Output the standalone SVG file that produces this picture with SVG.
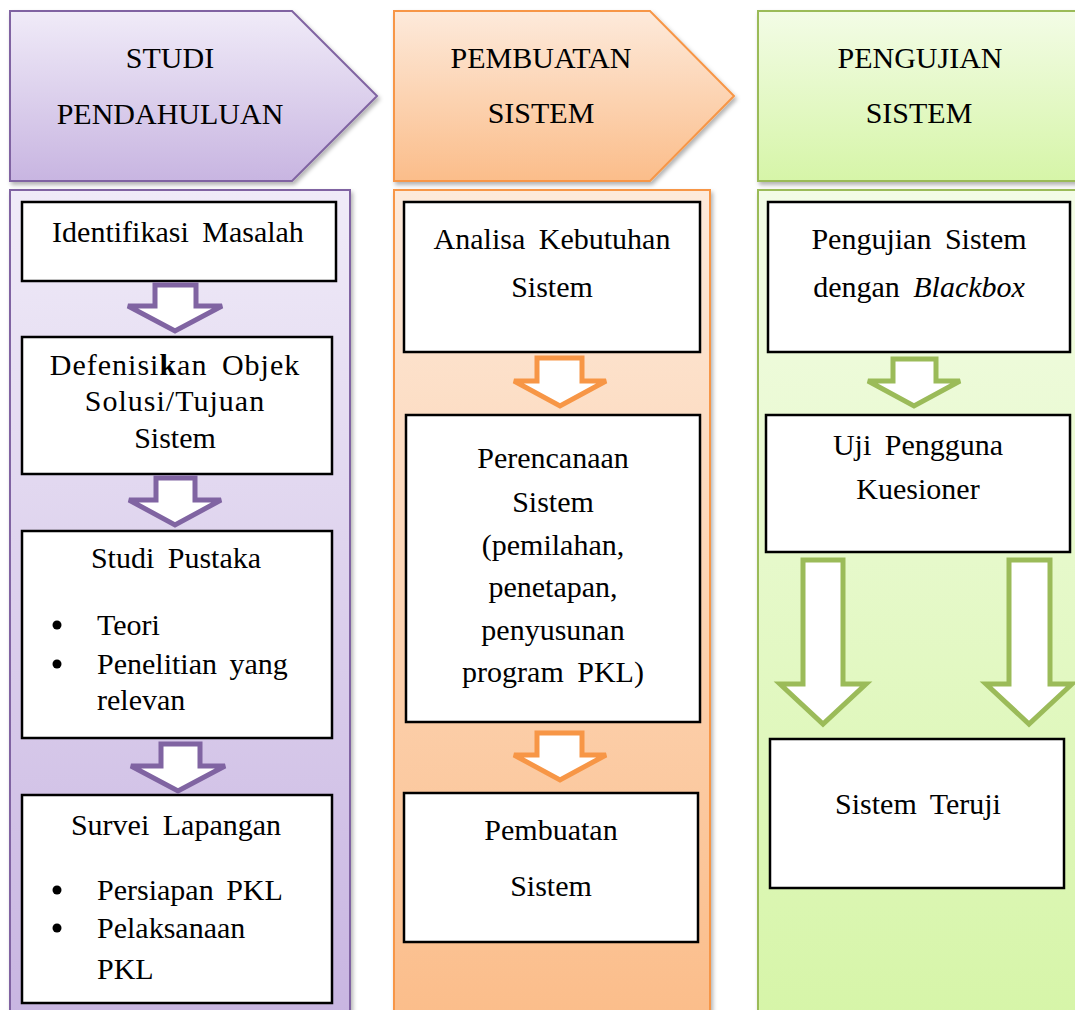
<svg xmlns="http://www.w3.org/2000/svg" width="1075" height="1010" viewBox="0 0 1075 1010">
  <defs>
    <linearGradient id="gPurple" x1="0" y1="0" x2="0" y2="1">
      <stop offset="0" stop-color="#f0ebf8"/>
      <stop offset="1" stop-color="#c8b5e1"/>
    </linearGradient>
    <linearGradient id="gOrange" x1="0" y1="0" x2="0" y2="1">
      <stop offset="0" stop-color="#fdeadb"/>
      <stop offset="1" stop-color="#fbbd8a"/>
    </linearGradient>
    <linearGradient id="gGreen" x1="0" y1="0" x2="0" y2="1">
      <stop offset="0" stop-color="#f3fce6"/>
      <stop offset="1" stop-color="#d6f5a8"/>
    </linearGradient>
    <filter id="shadow" x="-5%" y="-5%" width="115%" height="115%">
      <feDropShadow dx="2" dy="3" stdDeviation="2" flood-color="#000" flood-opacity="0.3"/>
    </filter>
    <style>
      .flow-head { font-family: "Liberation Serif", "Times New Roman", "DejaVu Serif", serif; font-size: 30px; text-anchor: middle; }
      .flow-body { font-family: "Liberation Serif", "Times New Roman", "DejaVu Serif", serif; font-size: 30px; text-anchor: middle; word-spacing: 6px; }
      .flow-item { font-family: "Liberation Serif", "Times New Roman", "DejaVu Serif", serif; font-size: 30px; word-spacing: 5px; }
      .flow-box { fill: #fff; stroke: #000; stroke-width: 2.5; }
      .arw-p { fill: #fff; stroke: #8064a2; stroke-width: 5; }
      .arw-o { fill: #fff; stroke: #f79646; stroke-width: 5; }
      .arw-g { fill: #fff; stroke: #9bbb59; stroke-width: 5; }
    </style>
  </defs>

  <!-- column 1: studi pendahuluan -->
  <g id="hdr-studi">
    <polygon points="10,11 292,11 377,96 292,181 10,181" fill="url(#gPurple)" stroke="#8064a2" stroke-width="2" filter="url(#shadow)"/>
    <text class="flow-head" x="170" y="68">STUDI</text>
    <text class="flow-head" x="170" y="124">PENDAHULUAN</text>
  </g>
  <g id="panel-studi">
    <rect x="10" y="190" width="340" height="830" fill="url(#gPurple)" stroke="#8064a2" stroke-width="2" filter="url(#shadow)"/>
  </g>
  <g id="n-identifikasi">
    <rect class="flow-box" x="22" y="202" width="314" height="79"/>
    <text class="flow-body" x="178" y="242">Identifikasi Masalah</text>
  </g>
  <g id="n-defenisikan">
    <rect class="flow-box" x="22" y="337" width="310" height="137"/>
    <text class="flow-body" x="175" y="375" letter-spacing="1">Defenisi<tspan font-weight="bold">k</tspan>an Objek</text>
    <text class="flow-body" x="175" y="411" letter-spacing="1">Solusi/Tujuan</text>
    <text class="flow-body" x="175" y="448">Sistem</text>
  </g>
  <g id="n-studi-pustaka">
    <rect class="flow-box" x="22" y="531" width="310" height="207"/>
    <text class="flow-body" x="176" y="568">Studi Pustaka</text>
    <circle cx="57" cy="625" r="4.5"/>
    <text class="flow-item" x="97" y="635">Teori</text>
    <circle cx="57" cy="664" r="4.5"/>
    <text class="flow-item" x="97" y="674">Penelitian yang</text>
    <text class="flow-item" x="97" y="710">relevan</text>
  </g>
  <g id="n-survei">
    <rect class="flow-box" x="22" y="795" width="310" height="208"/>
    <text class="flow-body" x="176" y="835">Survei Lapangan</text>
    <circle cx="57" cy="890" r="4.5"/>
    <text class="flow-item" x="97" y="900">Persiapan PKL</text>
    <circle cx="57" cy="928" r="4.5"/>
    <text class="flow-item" x="97" y="938">Pelaksanaan</text>
    <text class="flow-item" x="97" y="979">PKL</text>
  </g>

  <!-- column 2: pembuatan sistem -->
  <g id="hdr-pembuatan">
    <polygon points="394,11 650,11 734,96 650,181 394,181" fill="url(#gOrange)" stroke="#f79646" stroke-width="2" filter="url(#shadow)"/>
    <text class="flow-head" x="541" y="68">PEMBUATAN</text>
    <text class="flow-head" x="541" y="123">SISTEM</text>
  </g>
  <g id="panel-pembuatan">
    <rect x="394" y="190" width="316" height="830" fill="url(#gOrange)" stroke="#f79646" stroke-width="2" filter="url(#shadow)"/>
  </g>
  <g id="n-analisa">
    <rect class="flow-box" x="404" y="202" width="296" height="150"/>
    <text class="flow-body" x="552" y="249" word-spacing="8">Analisa Kebutuhan</text>
    <text class="flow-body" x="552" y="297">Sistem</text>
  </g>
  <g id="n-perencanaan">
    <rect class="flow-box" x="406" y="415" width="294" height="307"/>
    <text class="flow-body" x="553" y="468">Perencanaan</text>
    <text class="flow-body" x="553" y="512">Sistem</text>
    <text class="flow-body" x="553" y="555">(pemilahan,</text>
    <text class="flow-body" x="553" y="597">penetapan,</text>
    <text class="flow-body" x="553" y="640">penyusunan</text>
    <text class="flow-body" x="553" y="682">program PKL)</text>
  </g>
  <g id="n-pembuatan">
    <rect class="flow-box" x="404" y="793" width="294" height="149"/>
    <text class="flow-body" x="551" y="840">Pembuatan</text>
    <text class="flow-body" x="551" y="896">Sistem</text>
  </g>

  <!-- column 3: pengujian sistem -->
  <g id="hdr-pengujian">
    <rect x="758" y="11" width="330" height="170" fill="url(#gGreen)" stroke="#9bbb59" stroke-width="2" filter="url(#shadow)"/>
    <text class="flow-head" x="920" y="68">PENGUJIAN</text>
    <text class="flow-head" x="919" y="123">SISTEM</text>
  </g>
  <g id="panel-pengujian">
    <rect x="758" y="190" width="330" height="830" fill="url(#gGreen)" stroke="#9bbb59" stroke-width="2" filter="url(#shadow)"/>
  </g>
  <g id="n-blackbox">
    <rect class="flow-box" x="768" y="202" width="302" height="150"/>
    <text class="flow-body" x="919" y="249" word-spacing="8">Pengujian Sistem</text>
    <text class="flow-body" x="919" y="297">dengan <tspan font-style="italic">Blackbox</tspan></text>
  </g>
  <g id="n-uji-pengguna">
    <rect class="flow-box" x="766" y="415" width="304" height="137"/>
    <text class="flow-body" x="918" y="455" word-spacing="8">Uji Pengguna</text>
    <text class="flow-body" x="918" y="499">Kuesioner</text>
  </g>
  <g id="n-teruji">
    <rect class="flow-box" x="770" y="739" width="294" height="149"/>
    <text class="flow-body" x="918" y="814" word-spacing="8">Sistem Teruji</text>
  </g>

  <!-- block arrows between steps -->
  <g id="connectors">
    <polygon class="arw-p" points="155,285 196,285 196,306 222,306 175,331 128,306 155,306"/>
    <polygon class="arw-p" points="156,478 195,478 195,500 221,500 175,525 129,500 156,500"/>
    <polygon class="arw-p" points="161,744 200,744 200,766 225,766 178,791 131,766 161,766"/>
    <polygon class="arw-o" points="537,358 582,358 582,381 606,381 560,406 514,381 537,381"/>
    <polygon class="arw-o" points="537,733 582,733 582,755 606,755 560,780 514,755 537,755"/>
    <polygon class="arw-g" points="893,359 936,359 936,381 960,381 914,406 868,381 893,381"/>
    <polygon class="arw-g" points="803,560 843,560 843,684 866,684 823,724 780,684 803,684"/>
    <polygon class="arw-g" points="1009,560 1050,560 1050,684 1072,684 1029,724 986,684 1009,684"/>
  </g>
</svg>
